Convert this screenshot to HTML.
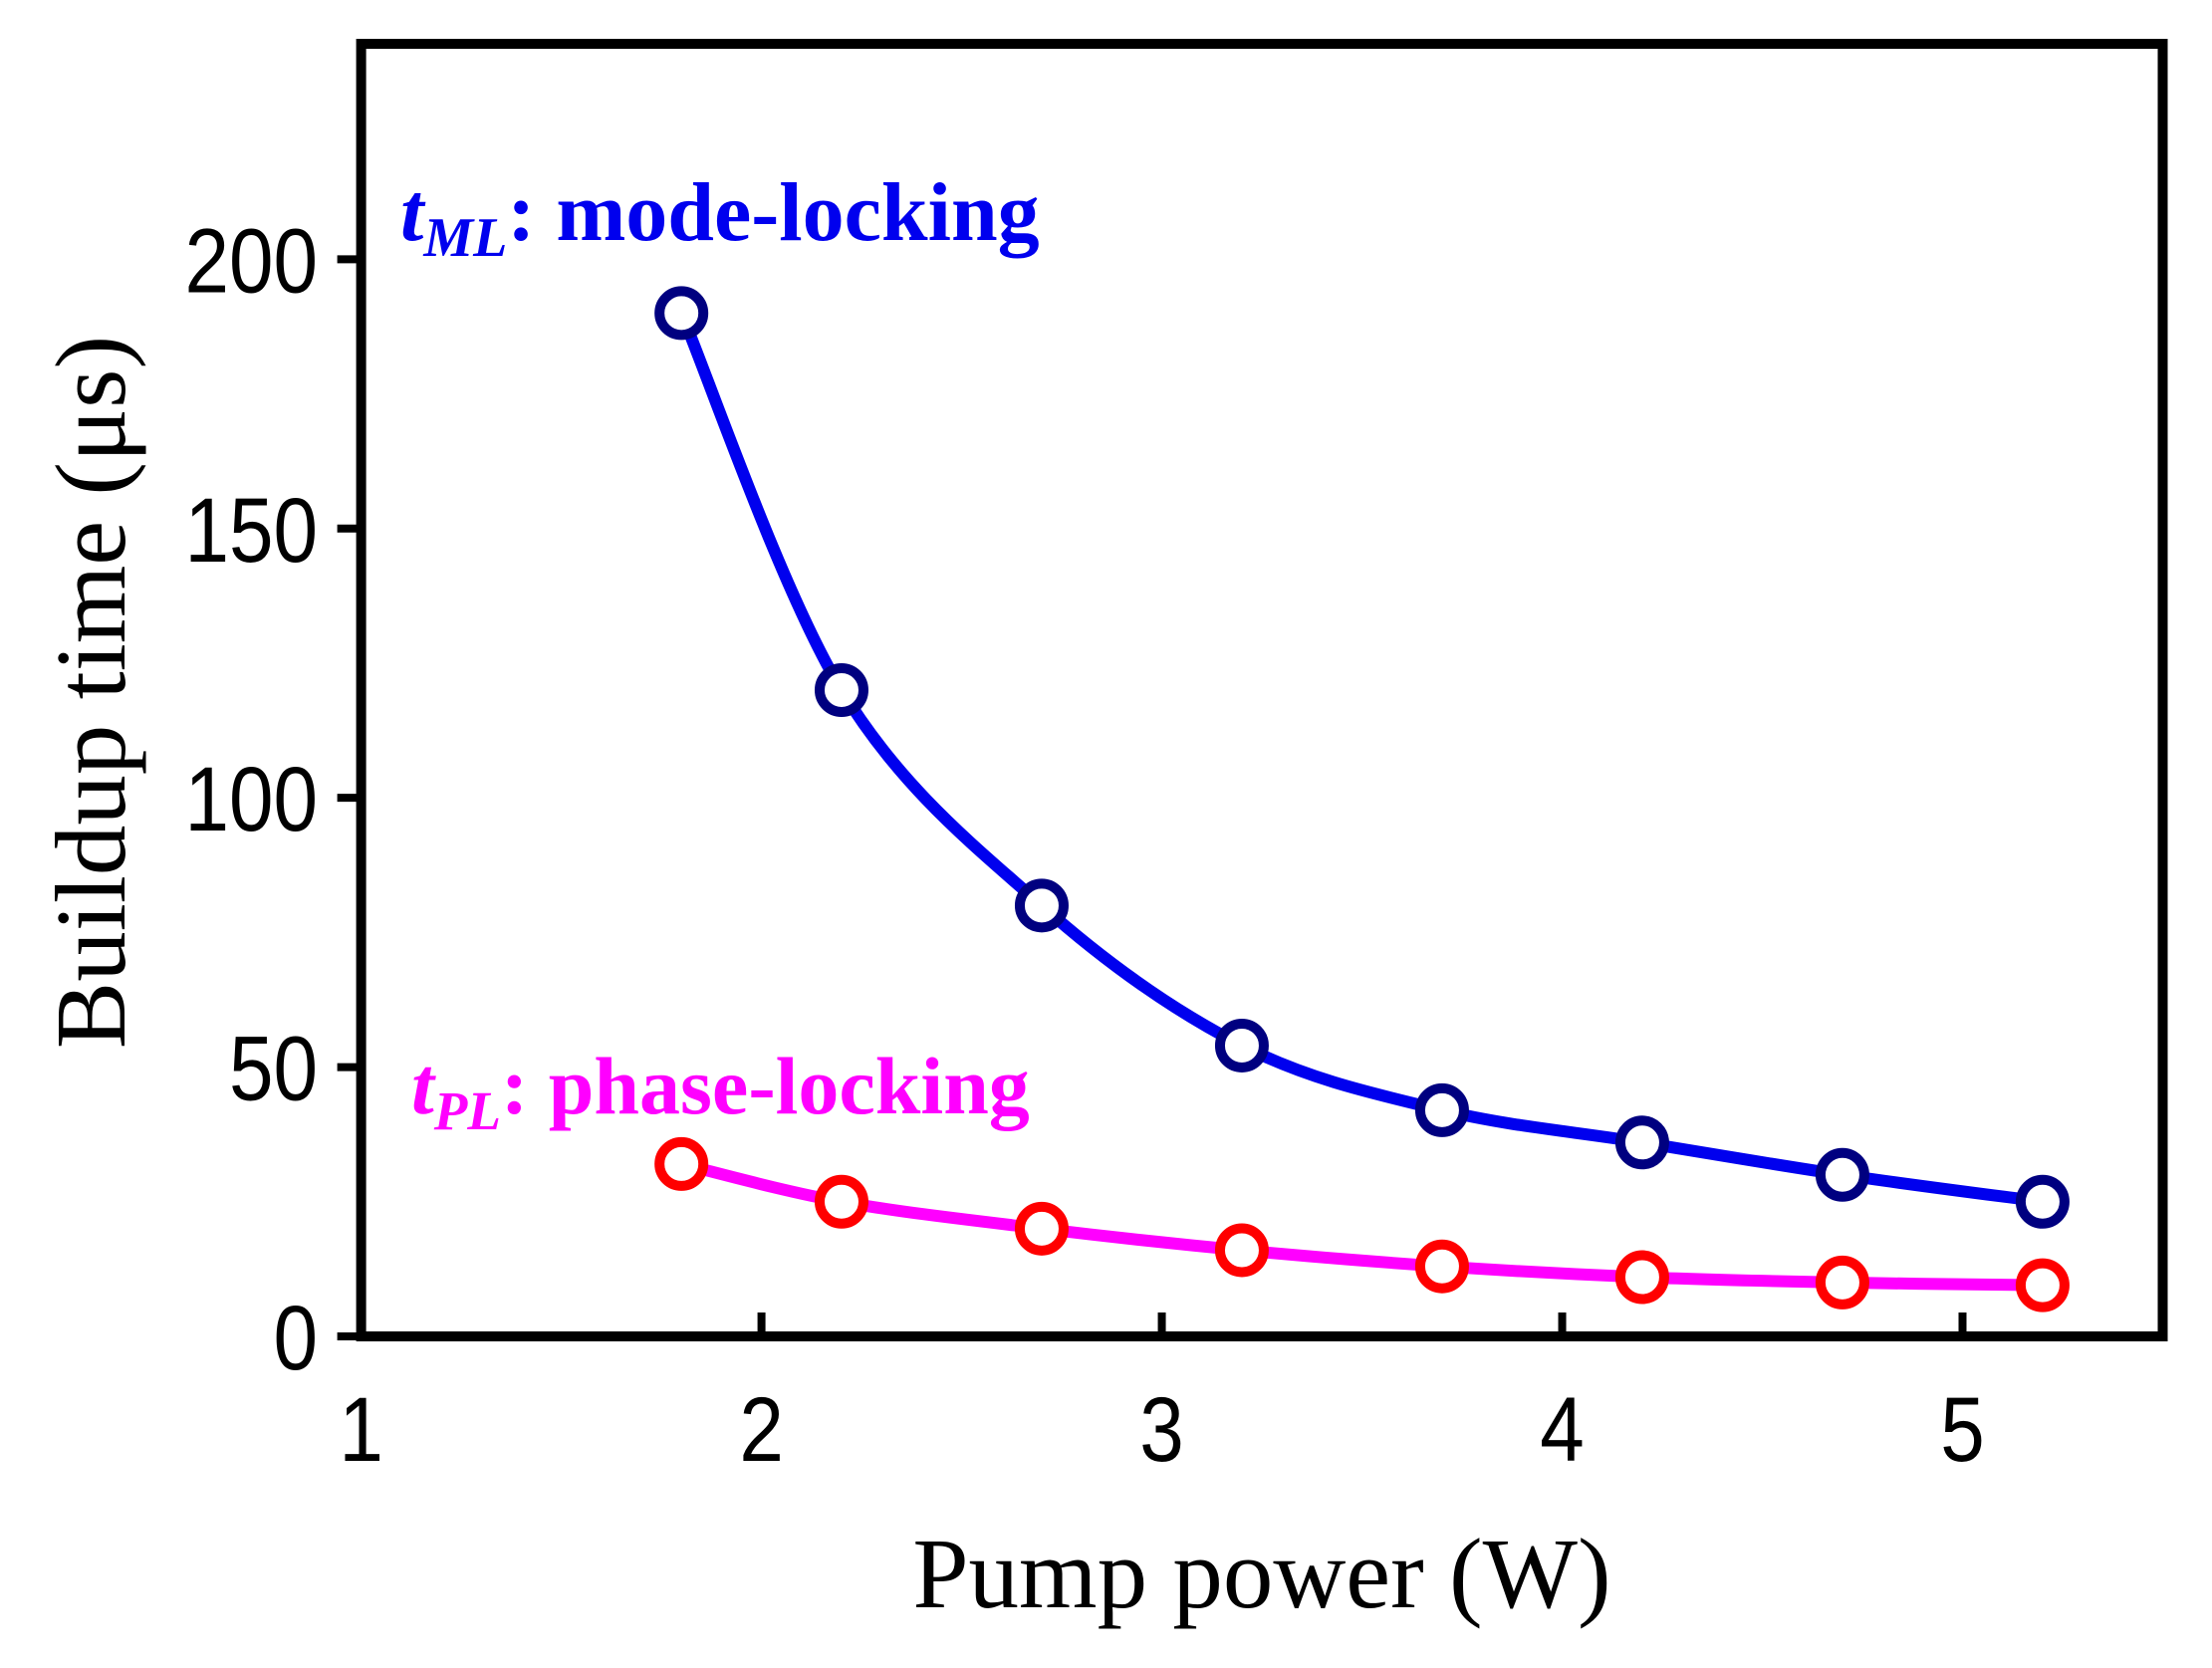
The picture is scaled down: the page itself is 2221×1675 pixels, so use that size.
<!DOCTYPE html>
<html><head><meta charset="utf-8"><style>
html,body{margin:0;padding:0;background:#fff;}
svg text{font-family:"Liberation Sans",sans-serif;}
</style></head><body>
<svg id="chart" width="2221" height="1670" viewBox="0 0 2221 1670" xmlns="http://www.w3.org/2000/svg">
<g id="axes"></g>
<g id="series"></g>
<text x="1267" y="1614" text-anchor="middle" style="font-family:'Liberation Serif',serif" font-size="101">Pump power (W)</text>
<text transform="translate(125,695) rotate(-90)" text-anchor="middle" style="font-family:'Liberation Serif',serif" font-size="101">Buildup time (μs)</text>
<text x="402" y="241" fill="#0000ee" font-weight="bold" style="font-family:'Liberation Serif',serif" font-size="84"><tspan font-style="italic">t</tspan><tspan font-style="italic" font-size="56" dy="16">ML</tspan><tspan dy="-16">:  mode-locking</tspan></text>
<text x="413" y="1118" fill="#ff00ff" font-weight="bold" style="font-family:'Liberation Serif',serif" font-size="82"><tspan font-style="italic">t</tspan><tspan font-style="italic" font-size="55" dy="16">PL</tspan><tspan dy="-16">: phase-locking</tspan></text>
</svg>
<script>
const xValues=[1.8,2.2,2.7,3.2,3.7,4.2,4.7,5.2];
const mlValues=[190,120,80,54,42,36,30,25];
const plValues=[32,25,20,16,13,11,10,9.5];
const xTicks=[1,2,3,4,5];
const yTicks=[0,50,100,150,200];
const L=362.6,R=2171.5,T=44,B=1342;
const xMin=1,xMax=5.5,yMin=0,yMax=240;
const sx=v=>L+(v-xMin)/(xMax-xMin)*(R-L);
const sy=v=>B-(v-yMin)/(yMax-yMin)*(B-T);
const NS="http://www.w3.org/2000/svg";
function mk(tag,attrs,parent){const e=document.createElementNS(NS,tag);for(const k in attrs)e.setAttribute(k,attrs[k]);parent.appendChild(e);return e;}
const axes=document.getElementById('axes'),series=document.getElementById('series');
const frame=mk('rect',{x:L,y:T,width:R-L,height:B-T,fill:'none',stroke:'#000','stroke-width':10},axes);


xTicks.forEach(v=>{
 const t=mk('line',{x1:sx(v),x2:sx(v),y1:B,y2:B-24,stroke:'#000','stroke-width':8},axes);
 
 
 const l=mk('text',{transform:`translate(${sx(v)},1467) scale(0.87,1)`,'text-anchor':'middle','font-size':92},axes);
 l.textContent=v;
 
 
});
yTicks.forEach(v=>{
 const t=mk('line',{x1:L,x2:L-24,y1:sy(v),y2:sy(v),stroke:'#000','stroke-width':8},axes);
 
 
 const l=mk('text',{transform:`translate(319,${sy(v)+33}) scale(0.87,1)`,'text-anchor':'end','font-size':92},axes);
 l.textContent=v;
 
 
});
function smooth(pts){
 let d=`M${pts[0][0]},${pts[0][1]}`;
 for(let i=0;i<pts.length-1;i++){
  const p0=pts[i-1]||pts[i],p1=pts[i],p2=pts[i+1],p3=pts[i+2]||p2;
  const c1=[p1[0]+(p2[0]-p0[0])/6,p1[1]+(p2[1]-p0[1])/6];
  const c2=[p2[0]-(p3[0]-p1[0])/6,p2[1]-(p3[1]-p1[1])/6];
  d+=` C${c1[0]},${c1[1]} ${c2[0]},${c2[1]} ${p2[0]},${p2[1]}`;
 }
 return d;
}
function drawSeries(vals,lineColor,markColor,name){
 const pts=xValues.map((x,i)=>[sx(x),sy(vals[i])]);
 const p=mk('path',{d:smooth(pts),fill:'none',stroke:lineColor,'stroke-width':12},series);
 
 
 pts.forEach(pt=>{
  const c=mk('circle',{cx:pt[0],cy:pt[1],r:22,fill:'#fff',stroke:markColor,'stroke-width':10},series);
  
  
 });
}
drawSeries(plValues,'#ff00ff','#ff0000','phase-locking');
drawSeries(mlValues,'#0000ee','#000080','mode-locking');
</script>
</body></html>
